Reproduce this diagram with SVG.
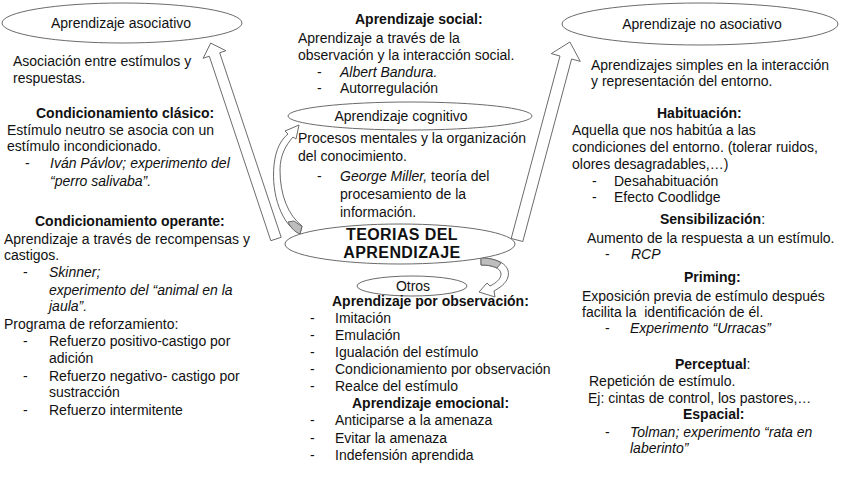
<svg xmlns="http://www.w3.org/2000/svg" width="848" height="477" viewBox="0 0 848 477">
<style>
.t { font-family: "Liberation Sans", Arial, sans-serif; font-size: 14px; fill: #111; }
.b { font-weight: bold; }
.i { font-style: italic; }
.pre { white-space: pre; }
.big { font-family: "Liberation Sans", Arial, sans-serif; font-size: 16px; font-weight: bold; fill: #111; letter-spacing: 0.4px; }
.e { fill: #fff; stroke: #6b6b6b; stroke-width: 1; }
.arr { fill: #fff; stroke: #6b6b6b; stroke-width: 1; }
.g { fill: #bdbdbd; stroke: #6b6b6b; stroke-width: 1; }
</style>
<rect width="848" height="477" fill="#fff"/>

<g id="connectors">
  <polygon class="arr" points="281.2,237.3 219.7,52.8 225.9,50.7 210.7,43.1 203.1,58.3 209.3,56.2 270.8,240.7"/>
  <polygon class="arr" points="522.8,241.5 571.6,59 580.3,61.4 569.9,42 551.3,53.6 560,56 511.2,238.5"/>
  <path class="arr" d="M300,234 C282,225 271,195 274,165 C276,148 281,140 288,134 L285,131 L299,125 L296,139 L293,137 C286,145 280,155 280,170 C280,195 288,215 302,226 Z"/>
  <path class="g" d="M300,234 C295,232 291,228 288,222 L294,221 C297,223 299,225 302,226 Z"/>
  <path class="arr" d="M481,258 C498,258 511,265 508,277 C506,284 499,288 494,291 L495,297 L479,292 L487,283 L490,286 C496,283 501,279 501,274 C501,268 492,265 481,265 Z"/>
  <path class="g" d="M481,258 C490,258 497,260 501,263 L497,268 C493,266 488,265 481,265 Z"/>
</g>

<g id="asociativo">
  <ellipse class="e" cx="122" cy="23" rx="120" ry="20"/>
  <text class="t" x="121" y="28" text-anchor="middle">Aprendizaje asociativo</text>
</g>

<g id="asociativo-text">
  <text class="t" x="13" y="66">Asociación entre estímulos y</text>
  <text class="t" x="13" y="83">respuestas.</text>
  <text class="t b" x="36" y="118">Condicionamiento clásico:</text>
  <text class="t" x="7" y="135">Estímulo neutro se asocia con un</text>
  <text class="t" x="7" y="151">estímulo incondicionado.</text>
  <text class="t" x="25" y="168">-</text>
  <text class="t i" x="50" y="168">Iván Pávlov; experimento del</text>
  <text class="t i" x="50" y="186">“perro salivaba”.</text>
  <text class="t b" x="35" y="226">Condicionamiento operante:</text>
  <text class="t" x="4" y="244">Aprendizaje a través de recompensas y</text>
  <text class="t" x="4" y="260">castigos.</text>
  <text class="t" x="23" y="277">-</text>
  <text class="t i" x="49" y="277">Skinner;</text>
  <text class="t i" x="49" y="295">experimento del “animal en la</text>
  <text class="t i" x="49" y="311">jaula”.</text>
  <text class="t" x="4" y="329">Programa de reforzamiento:</text>
  <text class="t" x="23" y="346">-</text>
  <text class="t" x="49" y="346">Refuerzo positivo-castigo por</text>
  <text class="t" x="49" y="363">adición</text>
  <text class="t" x="23" y="381">-</text>
  <text class="t" x="49" y="381">Refuerzo negativo- castigo por</text>
  <text class="t" x="49" y="397">sustracción</text>
  <text class="t" x="23" y="415">-</text>
  <text class="t" x="49" y="415">Refuerzo intermitente</text>
</g>

<g id="social">
  <text class="t b" x="355" y="24">Aprendizaje social:</text>
  <text class="t" x="298" y="43">Aprendizaje a través de la</text>
  <text class="t" x="298" y="60">observación y la interacción social.</text>
  <text class="t" x="317" y="77">-</text>
  <text class="t i" x="340" y="77">Albert Bandura.</text>
  <text class="t" x="317" y="93">-</text>
  <text class="t" x="340" y="93">Autorregulación</text>
</g>

<g id="cognitivo">
  <ellipse class="e" cx="410" cy="116" rx="122" ry="14"/>
  <text class="t" x="401" y="121" text-anchor="middle">Aprendizaje cognitivo</text>
</g>

<g id="cognitivo-text">
  <text class="t" x="298" y="143">Procesos mentales y la organización</text>
  <text class="t" x="298" y="161">del conocimiento.</text>
  <text class="t" x="317" y="181">-</text>
  <text class="t" x="340" y="181"><tspan class="i">George Miller,</tspan> teoría del</text>
  <text class="t" x="340" y="199">procesamiento de la</text>
  <text class="t" x="340" y="217">información.</text>
</g>

<g id="teorias">
  <ellipse class="e" cx="400" cy="244" rx="115" ry="20"/>
  <text class="big" x="402" y="240" text-anchor="middle">TEORIAS DEL</text>
  <text class="big" x="402" y="258" text-anchor="middle">APRENDIZAJE</text>
</g>

<g id="otros">
  <ellipse class="e" cx="412" cy="286" rx="55" ry="10"/>
  <text class="t" x="413" y="291" text-anchor="middle">Otros</text>
</g>

<g id="otros-text">
  <text class="t b" x="332" y="306">Aprendizaje por observación:</text>
  <text class="t" x="310" y="323">-</text>
  <text class="t" x="335" y="323">Imitación</text>
  <text class="t" x="310" y="340">-</text>
  <text class="t" x="335" y="340">Emulación</text>
  <text class="t" x="310" y="357">-</text>
  <text class="t" x="335" y="357">Igualación del estímulo</text>
  <text class="t" x="310" y="374">-</text>
  <text class="t" x="335" y="374">Condicionamiento por observación</text>
  <text class="t" x="310" y="391">-</text>
  <text class="t" x="335" y="391">Realce del estímulo</text>
  <text class="t b" x="352" y="408">Aprendizaje emocional:</text>
  <text class="t" x="310" y="425">-</text>
  <text class="t" x="335" y="425">Anticiparse a la amenaza</text>
  <text class="t" x="310" y="443">-</text>
  <text class="t" x="335" y="443">Evitar la amenaza</text>
  <text class="t" x="310" y="460">-</text>
  <text class="t" x="335" y="460">Indefensión aprendida</text>
</g>

<g id="no-asociativo">
  <ellipse class="e" cx="700" cy="24" rx="138" ry="21"/>
  <text class="t" x="702" y="29" text-anchor="middle">Aprendizaje no asociativo</text>
</g>

<g id="no-asociativo-text">
  <text class="t" x="591" y="70">Aprendizajes simples en la interacción</text>
  <text class="t" x="591" y="86">y representación del entorno.</text>
  <text class="t b" x="657" y="118">Habituación:</text>
  <text class="t" x="572" y="135">Aquella que nos habitúa a las</text>
  <text class="t" x="572" y="152">condiciones del entorno. (tolerar ruidos,</text>
  <text class="t" x="572" y="169">olores desagradables,…)</text>
  <text class="t" x="592" y="186">-</text>
  <text class="t" x="614" y="186">Desahabituación</text>
  <text class="t" x="592" y="202">-</text>
  <text class="t" x="614" y="202">Efecto Coodlidge</text>
  <text class="t" x="660" y="224"><tspan class="b">Sensibilización</tspan>:</text>
  <text class="t" x="587" y="243">Aumento de la respuesta a un estímulo.</text>
  <text class="t" x="605" y="259">-</text>
  <text class="t i" x="631" y="259">RCP</text>
  <text class="t b" x="684" y="282">Priming:</text>
  <text class="t" x="582" y="301">Exposición previa de estímulo después</text>
  <text class="t pre" x="582" y="317">facilita la  identificación de él.</text>
  <text class="t" x="605" y="333">-</text>
  <text class="t i" x="630" y="333">Experimento “Urracas”</text>
  <text class="t" x="675" y="369"><tspan class="b">Perceptual</tspan>:</text>
  <text class="t" x="589" y="386">Repetición de estímulo.</text>
  <text class="t" x="588" y="403">Ej: cintas de control, los pastores,…</text>
  <text class="t b" x="683" y="419">Espacial:</text>
  <text class="t" x="605" y="437">-</text>
  <text class="t i" x="630" y="437">Tolman; experimento “rata en</text>
  <text class="t i" x="630" y="453">laberinto”</text>
</g>
</svg>
